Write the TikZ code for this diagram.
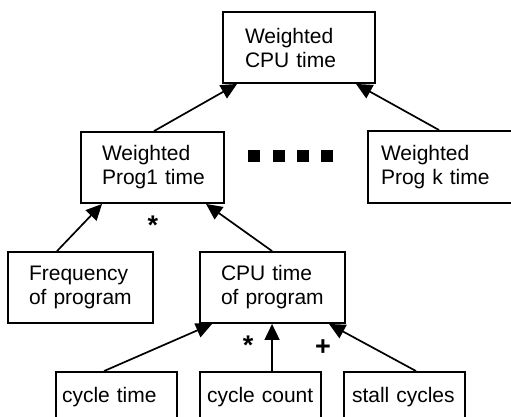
\documentclass[tikz,border=0pt]{standalone}
\usepackage{fontspec}
\setmainfont{Liberation Sans}
\usetikzlibrary{arrows.meta}

\tikzset{
    kasten/.style={draw, line width=1.9pt, align=left, inner ysep=0pt,
        font=\fontsize{21}{24}\selectfont},
    pfeil/.style={line width=1.7pt, -{Triangle[length=16pt,width=15pt]}},
    zeichen/.style={font=\fontsize{27}{28}\selectfont\bfseries, inner sep=0pt}
}

\begin{document}
\begin{tikzpicture}[x=1pt, y=-1pt]
\useasboundingbox (0,0) rectangle (511,417);
\clip (0,0) rectangle (511,417);

% obere Ebenen
\node[kasten, inner xsep=22pt, text width=108pt, minimum height=71pt] (cpu) at (299,47.5) {Weighted\\CPU~time};
\node[kasten, inner xsep=21pt, text width=101pt, minimum height=71pt] (prog1) at (152.5,167.5) {Weighted\\Prog1~time};
\node[kasten, inner xsep=13pt, text width=126pt, minimum height=72pt] (progk) at (444,167) {Weighted\\Prog~k~time};

\foreach \x in {254,278.5,302.5,327} {
    \fill (\x-6,150) rectangle (\x+6,162);
}

% mittlere Ebene
\node[kasten, inner xsep=21pt, text width=103pt, minimum height=71pt] (freq) at (80.5,287.5) {Frequency\\of~program};
\node[kasten, inner xsep=21pt, text width=103pt, minimum height=71pt] (cpuprog) at (272.5,287.5) {CPU~time\\of~program};

% untere Ebene
\node[kasten, inner xsep=6pt, text width=109pt, minimum height=50pt] (ctime) at (116.5,397) {cycle~time};
\node[kasten, inner xsep=7pt, text width=107pt, minimum height=50pt] (ccount) at (260.5,397) {cycle~count};
\node[kasten, inner xsep=8pt, text width=105pt, minimum height=50pt] (stall) at (404.5,397) {stall~cycles};

\draw[pfeil] ([xshift=74pt]prog1.north west) -- ([xshift=15pt]cpu.south west);
\draw[pfeil] ([xshift=72pt]progk.north west) -- ([xshift=134pt]cpu.south west);
\draw[pfeil] ([xshift=50pt]freq.north west) -- ([xshift=22pt]prog1.south west);
\draw[pfeil] ([xshift=73pt]cpuprog.north west) -- ([xshift=126pt]prog1.south west);
\draw[pfeil] ([xshift=49pt]ctime.north west) -- ([xshift=13pt]cpuprog.south west);
\draw[pfeil] ([xshift=73pt]ccount.north west) -- ([xshift=73pt]cpuprog.south west);
\draw[pfeil] ([xshift=73pt]stall.north west) -- ([xshift=130pt]cpuprog.south west);

\node[zeichen] (mal1) at (153,225) {*};
\node[zeichen] (mal2) at (248,345) {*};
\node[zeichen] (plus) at (323,348) {+};

\end{tikzpicture}
\end{document}
